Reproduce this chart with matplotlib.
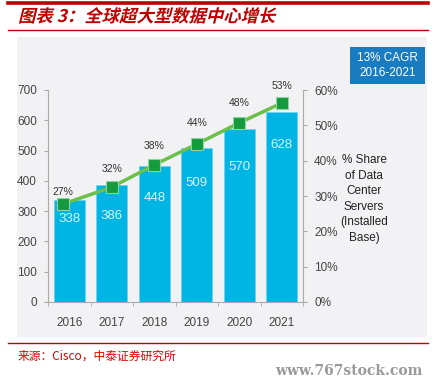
import matplotlib
matplotlib.use("Agg")
import matplotlib.pyplot as plt
from matplotlib.patches import Rectangle
from matplotlib.lines import Line2D
from matplotlib.patheffects import AbstractPathEffect
from matplotlib.transforms import Affine2D

plt.rcParams['font.family'] = ['Noto Sans CJK SC', 'DejaVu Sans']

years = ["2016", "2017", "2018", "2019", "2020", "2021"]
servers = [338, 386, 448, 509, 570, 628]
share_labels = ["27%", "32%", "38%", "44%", "48%", "53%"]
share_pos = [27.7, 32.5, 38.8, 44.7, 50.7, 56.3]
left_ticks = [0, 100, 200, 300, 400, 500, 600, 700]
right_ticks = [0, 10, 20, 30, 40, 50, 60]

LAT = ["Liberation Sans", "DejaVu Sans"]


class Slant(AbstractPathEffect):
    def __init__(self, deg=14):
        super().__init__()
        self.deg = deg

    def draw_path(self, renderer, gc, tpath, affine, rgbFace=None):
        renderer.draw_path(gc, tpath, Affine2D().skew_deg(self.deg, 0) + affine, rgbFace)


W, H = 436, 385
fig = plt.figure(figsize=(W / 100, H / 100), dpi=100)
fig.patch.set_facecolor("white")

def fx(px):
    return px / W

def fy(py):
    return 1 - py / H

# panel background
fig.patches.append(Rectangle((fx(17), fy(337)), fx(427) - fx(17), fy(37) - fy(337),
                             transform=fig.transFigure, facecolor="#f2f2f4",
                             edgecolor="none", zorder=-5))
# red rules
fig.lines.append(Line2D([fx(8), fx(428)], [fy(3), fy(3)], transform=fig.transFigure,
                        color="#c00000", lw=2.6))
fig.lines.append(Line2D([fx(8), fx(428)], [fy(30), fy(30)], transform=fig.transFigure,
                        color="#c00000", lw=1.0))
fig.lines.append(Line2D([fx(8), fx(428)], [fy(343), fy(343)], transform=fig.transFigure,
                        color="#c00000", lw=1.0))

fig.text(fx(18), fy(17), "图表 3：全球超大型数据中心增长", color="#c00000",
         fontsize=12.5, fontweight="bold", va="center", ha="left",
         path_effects=[Slant(14)])
fig.text(fx(18), fy(356), "来源：Cisco，中泰证券研究所", color="#e00000",
         fontsize=8.5, va="center", ha="left")
fig.text(fx(422), fy(371), "www.767stock.com", color="#9a9a9a", fontsize=10,
         family=["DejaVu Serif"], fontweight="bold", va="center", ha="right")

ax = fig.add_axes([fx(48), fy(302), fx(303) - fx(48), fy(90) - fy(302)])
ax.set_facecolor("none")
x = list(range(len(years)))
ax.bar(x, servers, width=0.73, color="#00b4e4", edgecolor="#6fd3f0", linewidth=0.6, zorder=2)
ax.set_xlim(-0.5, 5.5)
ax.set_ylim(0, 700)
ax.set_yticks(left_ticks)
ax.set_yticklabels([str(v) for v in left_ticks], fontsize=8.5, color="#444444", family=LAT)
ax.set_xticks(x)
ax.set_xticklabels(years, fontsize=8.5, color="#444444", family=LAT)
ax.tick_params(axis="x", length=0, pad=11)
ax.set_xticks([i - 0.5 for i in range(7)], minor=True)
ax.tick_params(axis="x", which="minor", length=3, color="#aaaaaa")
ax.tick_params(axis="y", length=3, color="#aaaaaa", pad=5)
for s in ["top", "right"]:
    ax.spines[s].set_visible(False)
ax.spines["left"].set_color("#aaaaaa")
ax.spines["bottom"].set_color("#aaaaaa")

label_off = [-19, -31, -32, -35, -38, -33]
for i, v in enumerate(servers):
    ax.annotate(str(v), (i, v), xytext=(0, label_off[i]), textcoords="offset pixels",
                ha="center", va="center", fontsize=9.5, color="#d9f4fb", zorder=5,
                family=LAT)

ax2 = ax.twinx()
ax2.set_ylim(0, 60)
ax2.set_yticks(right_ticks)
ax2.set_yticklabels([f"{v}%" for v in right_ticks], fontsize=8.5, color="#444444", family=LAT)
ax2.tick_params(axis="y", length=3, color="#aaaaaa", pad=5)
for s in ["top", "left", "bottom"]:
    ax2.spines[s].set_visible(False)
ax2.spines["right"].set_color("#aaaaaa")
xs = [-0.15] + x[1:]
ax2.plot(xs, share_pos, color="#6cbf4a", lw=2.5, zorder=3,
         marker="s", markersize=8, markerfacecolor="#159a3e",
         markeredgecolor="#8fd3a0", markeredgewidth=0.8)
pct_off = [12, 18, 19, 21, 20, 17]
for i, lab in enumerate(share_labels):
    ax2.annotate(lab, (xs[i], share_pos[i]), xytext=(0, pct_off[i]), textcoords="offset pixels",
                 ha="center", va="center", fontsize=7.5, color="#333333", family=LAT)

fig.text(fx(364), fy(199), "% Share\nof Data\nCenter\nServers\n(Installed\nBase)",
         ha="center", va="center", fontsize=8.5, color="#222222", linespacing=1.38,
         family=LAT)

fig.patches.append(Rectangle((fx(350), fy(84)), fx(425) - fx(350), fy(47) - fy(84),
                             transform=fig.transFigure, facecolor="#1a7cc0",
                             edgecolor="none", zorder=1))
fig.text(fx(387.5), fy(65.5), "13% CAGR\n2016-2021", ha="center", va="center",
         fontsize=8.5, color="white", linespacing=1.3, family=LAT, zorder=2)

fig.savefig("out.png", dpi=100)
